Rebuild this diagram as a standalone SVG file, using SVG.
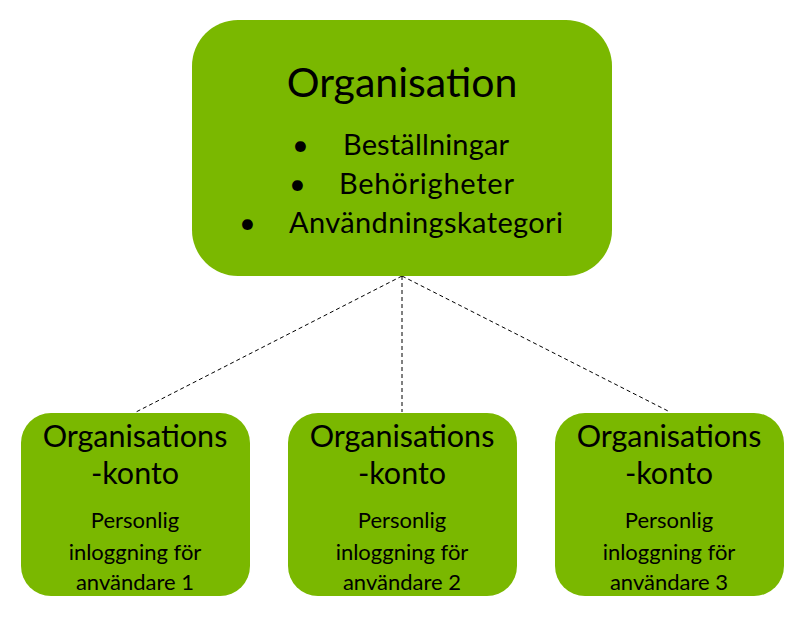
<svg xmlns="http://www.w3.org/2000/svg" width="804" height="617" viewBox="0 0 804 617">
<style>
.box{fill:#7ab800}
text{font-family:Lato,"Open Sans",sans-serif;fill:#000}
.t1{font-size:41px;text-anchor:middle}
.b{font-size:29px}
.h{font-size:30.5px;text-anchor:middle}
.s{font-size:22px;text-anchor:middle}
.conn{stroke:#000;stroke-width:1;stroke-dasharray:4 3;fill:none}
</style>
<rect width="804" height="617" fill="#fff"/>
<g id="connectors">
<line class="conn" x1="402" y1="276" x2="136" y2="412"/>
<line class="conn" x1="402" y1="276" x2="402" y2="412"/>
<line class="conn" x1="402" y1="276" x2="670" y2="412"/>
</g>
<g id="organisation">
<rect class="box" x="192" y="20" width="420" height="256" rx="46"/>
<text class="t1" x="402" y="97">Organisation</text>
<text class="b" x="292" y="155">•</text><text class="b" x="343" y="155" textLength="166">Beställningar</text>
<text class="b" x="289" y="194">•</text><text class="b" x="339" y="194" textLength="175">Behörigheter</text>
<text class="b" x="239" y="233">•</text><text class="b" x="289" y="233" textLength="274">Användningskategori</text>
</g>
<g id="konto1">
<rect class="box" x="21" y="413" width="229" height="183" rx="30"/>
<text class="h" x="135" y="447">Organisations</text>
<text class="h" x="135" y="484">-konto</text>
<text class="s" x="135" y="528">Personlig</text>
<text class="s" x="135" y="560">inloggning för</text>
<text class="s" x="135" y="590">användare 1</text>
</g>
<g id="konto2">
<rect class="box" x="288" y="413" width="229" height="183" rx="30"/>
<text class="h" x="402" y="447">Organisations</text>
<text class="h" x="402" y="484">-konto</text>
<text class="s" x="402" y="528">Personlig</text>
<text class="s" x="402" y="560">inloggning för</text>
<text class="s" x="402" y="590">användare 2</text>
</g>
<g id="konto3">
<rect class="box" x="555" y="413" width="229" height="183" rx="30"/>
<text class="h" x="669" y="447">Organisations</text>
<text class="h" x="669" y="484">-konto</text>
<text class="s" x="669" y="528">Personlig</text>
<text class="s" x="669" y="560">inloggning för</text>
<text class="s" x="669" y="590">användare 3</text>
</g>
</svg>
